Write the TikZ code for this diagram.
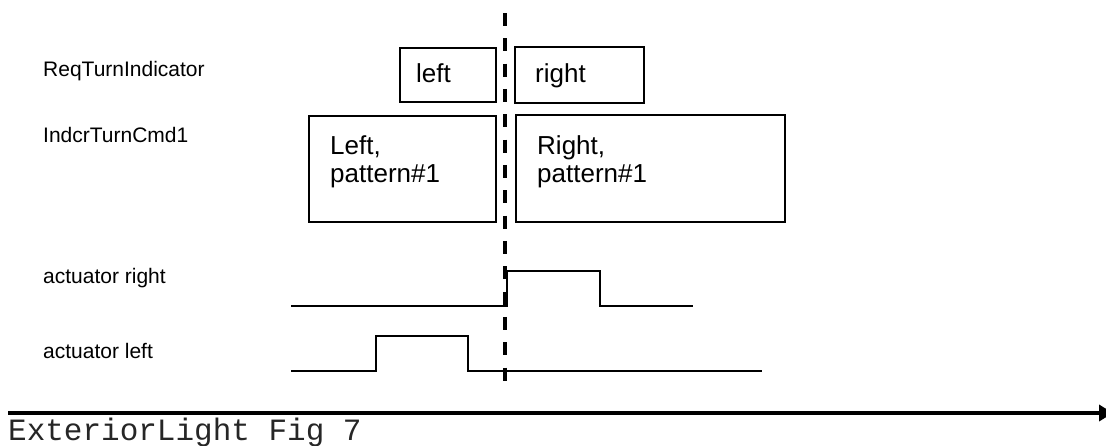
\documentclass[tikz,border=0pt]{standalone}
\usepackage{fontspec}
\setmainfont{Liberation Sans}
\newfontfamily\monofont{Liberation Mono}
\usetikzlibrary{arrows.meta}
\begin{document}
\begin{tikzpicture}[x=1pt,y=-1pt,
  sigbox/.style={draw=black, line width=1.8pt, rectangle, inner sep=0pt, anchor=north west},
  siglabel/.style={anchor=base west, inner sep=0pt, font=\fontsize{21}{24}\selectfont},
  boxtext/.style={anchor=base west, inner sep=0pt, align=left, font=\fontsize{26}{28}\selectfont},
  wave/.style={line width=1.8pt, line join=miter},
]
\useasboundingbox (0,0) rectangle (1106,445);
\fill[white] (0,0) rectangle (1106,445);

% signal labels
\node[siglabel] (lreq) at (43,76) {ReqTurnIndicator};
\node[siglabel] (lcmd) at (43,142) {IndcrTurnCmd1};
\node[siglabel] (lar) at (43,283) {actuator right};
\node[siglabel] (lal) at (43,358) {actuator left};

% boxes
\node[sigbox, minimum width=96pt, minimum height=54pt] (reqleft) at (399,47) {};
\node[sigbox, minimum width=129pt, minimum height=56pt] (reqright) at (514,46) {};
\node[sigbox, minimum width=187pt, minimum height=106pt] (cmdleft) at (308,115) {};
\node[sigbox, minimum width=269pt, minimum height=107pt] (cmdright) at (515,114) {};

\node[boxtext] (treqleft) at (416,82) {left};
\node[boxtext] (treqright) at (535,82) {right};
\node[boxtext] (tcmdleft) at (330,182) {Left,\\pattern\#1};
\node[boxtext] (tcmdright) at (537,182) {Right,\\pattern\#1};

% waveforms
\draw[wave] (291,306) -- (507,306) -- (507,271) -- (600,271) -- (600,306) -- (693,306);
\draw[wave] (291,371) -- (376,371) -- (376,336) -- (468,336) -- (468,371) -- (762,371);

% dashed time marker
\draw[line width=3.5pt, dash pattern=on 13pt off 12.33pt] (505,13) -- (505,381);

% time axis
\draw[line width=3.5pt, -{Triangle[length=14pt, width=16pt]}] (8,413) -- (1113,413);

\node[anchor=base west, inner sep=0pt, font=\monofont\fontsize{31}{34}\selectfont, text=black!85] (caption) at (8,440) {ExteriorLight Fig 7};
\end{tikzpicture}
\end{document}
